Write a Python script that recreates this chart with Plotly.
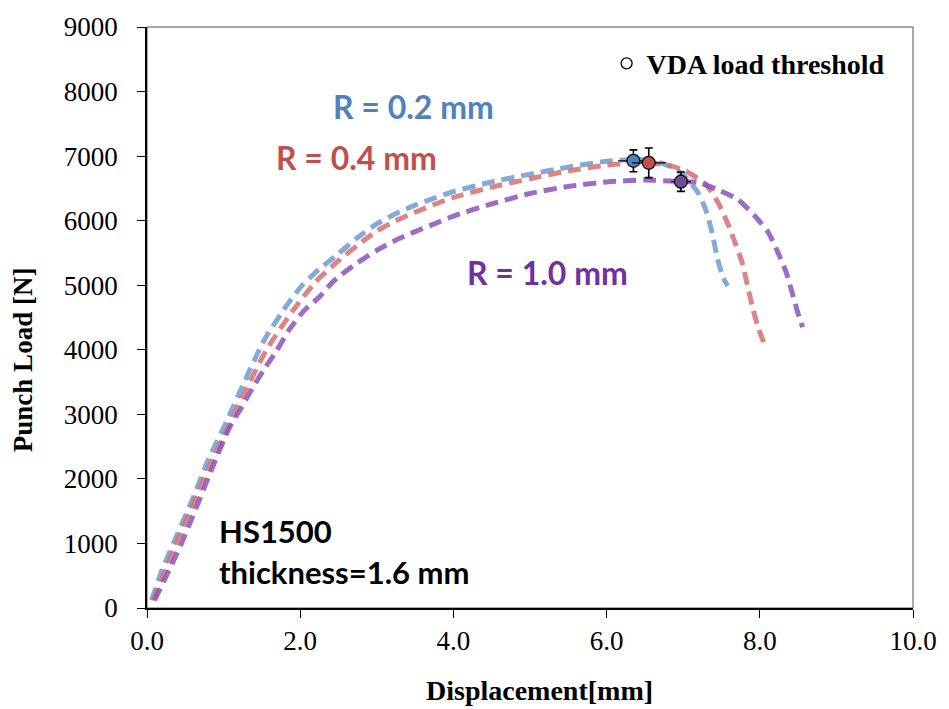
import plotly.graph_objects as go

# Punch load vs displacement, HS1500, three punch radii
disp_r02 = [0.06, 0.20, 0.40, 0.60, 0.79, 1.04, 1.27, 1.53, 1.85, 2.02, 2.24, 2.46, 2.75, 3.00,
            3.25, 3.50, 3.75, 4.00, 4.50, 5.00, 5.50, 6.00, 6.40, 6.70, 6.90, 7.05, 7.20, 7.30,
            7.38, 7.45, 7.52, 7.58]
load_r02 = [120, 600, 1150, 1700, 2270, 2890, 3500, 4150, 4730, 4990, 5240, 5450, 5740, 5950,
            6110, 6240, 6350, 6450, 6600, 6720, 6830, 6920, 6950, 6900, 6800, 6650, 6420, 6150,
            5800, 5400, 5120, 4990]

disp_r04 = [0.08, 0.40, 0.80, 1.06, 1.30, 1.56, 1.90, 2.20, 2.50, 2.75, 3.00, 3.25, 3.50, 3.75,
            4.00, 4.50, 5.00, 5.50, 6.00, 6.50, 6.80, 7.03, 7.29, 7.46, 7.58, 7.68, 7.77, 7.84,
            7.90, 7.97, 8.06]
load_r04 = [120, 1050, 2150, 2800, 3400, 4000, 4600, 5050, 5380, 5620, 5840, 6000, 6130, 6250,
            6360, 6520, 6650, 6770, 6860, 6900, 6860, 6770, 6570, 6270, 5960, 5650, 5350, 4990,
            4680, 4380, 4085]

disp_r10 = [0.10, 0.45, 0.85, 1.07, 1.24, 1.37, 1.53, 1.68, 1.85, 2.05, 2.24, 2.44, 2.75, 3.00,
            3.25, 3.50, 3.75, 4.00, 4.50, 5.00, 5.50, 6.00, 6.50, 6.90, 7.20, 7.45, 7.71, 7.93,
            8.11, 8.24, 8.35, 8.43, 8.52, 8.56]
load_r10 = [120, 1000, 2165, 2780, 3118, 3394, 3701, 3963, 4300, 4607, 4807, 5068, 5350, 5540,
            5700, 5830, 5950, 6070, 6260, 6420, 6530, 6600, 6630, 6610, 6590, 6480, 6330, 6080,
            5820, 5500, 5180, 4850, 4480, 4350]

# VDA load threshold points with scatter
vda_disp = [6.35, 6.55, 6.97]
vda_load = [6927, 6896, 6604]
vda_disp_err = [0.20, 0.22, 0.13]
vda_load_err = [170, 230, 150]

series_names = ["R = 0.2 mm", "R = 0.4 mm", "R = 1.0 mm"]
line_colors = ["rgba(110,156,208,0.85)", "rgba(214,112,112,0.85)", "rgba(140,82,186,0.85)"]
text_colors = ["#4f81bd", "#c0504d", "#7030a0"]
marker_colors = ["#4f81bd", "#c0504d", "#6e4f94"]

x_ticks = [0, 2, 4, 6, 8, 10]
x_tick_text = ["0.0", "2.0", "4.0", "6.0", "8.0", "10.0"]

fig = go.Figure()

for xs, ys, name, col in zip([disp_r02, disp_r04, disp_r10],
                             [load_r02, load_r04, load_r10],
                             series_names, line_colors):
    fig.add_trace(go.Scatter(
        x=xs, y=ys, mode="lines", name=name, showlegend=False,
        line=dict(color=col, width=5, dash="13px,7px", shape="spline", smoothing=0.6),
    ))

for i in range(3):
    fig.add_trace(go.Scatter(
        x=[vda_disp[i]], y=[vda_load[i]], mode="markers", showlegend=False,
        marker=dict(size=13, color=marker_colors[i], line=dict(color="black", width=1.2)),
        error_y=dict(type="data", array=[vda_load_err[i]], color="black", thickness=1.6, width=4),
        error_x=dict(type="data", array=[vda_disp_err[i]], color="black", thickness=1.2, width=0),
    ))

# legend entry for the threshold marker
fig.add_trace(go.Scatter(
    x=[None], y=[None], mode="markers", name="<b>VDA load threshold</b>", showlegend=True,
    marker=dict(size=11, color="white", line=dict(color="black", width=1.3)),
))

label_pos = [(3.48, 7771), (2.73, 6973), (5.23, 5191)]
for (lx, ly), name, col in zip(label_pos, series_names, text_colors):
    fig.add_annotation(x=lx, y=ly, xref="x", yref="y", text="<b>%s</b>" % name,
                       showarrow=False, font=dict(family="Lato", size=32, color=col))

fig.add_annotation(x=0.92, y=1198, xref="x", yref="y", xanchor="left", showarrow=False,
                   text="<b>HS1500</b>", font=dict(family="Lato", size=31, color="black"))
fig.add_annotation(x=0.92, y=553, xref="x", yref="y", xanchor="left", showarrow=False,
                   text="<b>thickness=1.6 mm</b>", font=dict(family="Lato", size=31, color="black"))

fig.add_annotation(x=-0.183, y=0.428, xref="paper", yref="paper", textangle=-90, showarrow=False,
                   text="<b>Punch Load [N]</b>",
                   font=dict(family="Liberation Serif", size=27, color="black"))
fig.add_annotation(x=0.512, y=-0.172, xref="paper", yref="paper", showarrow=False,
                   text="<b>Displacement[mm]</b>",
                   font=dict(family="Liberation Serif", size=28, color="black"))

# thin frame around the plotting area
fig.add_shape(type="rect", xref="paper", yref="paper", x0=0, y0=0, x1=1, y1=1,
              line=dict(color="#555555", width=1), layer="below")

fig.update_xaxes(range=[0, 10], tickvals=x_ticks, ticktext=x_tick_text,
                 showgrid=False, zeroline=False, showline=True, linecolor="black", linewidth=1.5,
                 ticks="outside", ticklen=8, tickcolor="black", tickwidth=1.2,
                 tickfont=dict(family="Liberation Serif", size=27, color="black"))
fig.update_yaxes(range=[0, 9000], dtick=1000,
                 showgrid=False, zeroline=False, showline=True, linecolor="black", linewidth=1.5,
                 ticks="outside", ticklen=8, tickcolor="black", tickwidth=1.2,
                 ticklabelstandoff=14,
                 tickfont=dict(family="Liberation Serif", size=27, color="black"))

fig.update_layout(
    width=949, height=709,
    margin=dict(l=147, r=30, t=22, b=101),
    plot_bgcolor="white", paper_bgcolor="white",
    legend=dict(x=0.6, y=0.98, xanchor="left", yanchor="top", bgcolor="rgba(0,0,0,0)",
                font=dict(family="Liberation Serif", size=28, color="black"),
                itemwidth=30, tracegroupgap=0),
)

fig.write_html("out.html")
